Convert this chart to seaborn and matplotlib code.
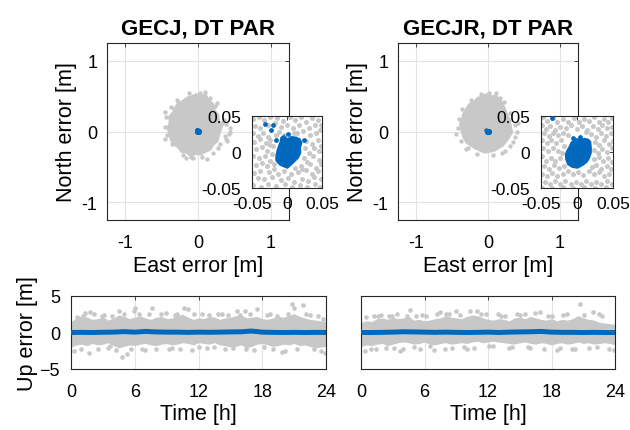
import matplotlib
matplotlib.use("Agg")
import matplotlib.pyplot as plt
import seaborn as sns
import numpy as np

sns.set_theme(style="white")
plt.rcParams["font.family"] = ["Liberation Sans", "DejaVu Sans"]
plt.rcParams["text.color"] = "black"
plt.rcParams["axes.labelcolor"] = "black"

GRAY = "#c8c8c8"
BLUE = "#0068bd"
AXCOL = "#262626"

titles = ["GECJ, DT PAR", "GECJR, DT PAR"]

# --- horizontal scatter, main view (m): dense core outline + outlying dots
core_e_1 = [-0.02, 0.04, 0.11, 0.14, 0.21, 0.23, 0.28, 0.29, 0.34, 0.31, 0.29, 0.27, 0.21, 0.17, 0.10, 0.04,
            -0.04, -0.10, -0.16, -0.23, -0.28, -0.35, -0.38, -0.40, -0.42, -0.39, -0.40, -0.33, -0.30, -0.23, -0.15, -0.09]
core_n_1 = [0.53, 0.50, 0.53, 0.45, 0.39, 0.30, 0.24, 0.15, 0.09, 0.01, -0.06, -0.14, -0.19, -0.26, -0.29, -0.33,
            -0.32, -0.35, -0.30, -0.29, -0.22, -0.18, -0.10, -0.02, 0.05, 0.13, 0.21, 0.29, 0.37, 0.42, 0.48, 0.50]
out_e_1 = [0.10, 0.03, -0.46, 0.44, 0.37, 0.30, -0.16, -0.07, -0.43, 0.36, -0.45, 0.42, -0.44, -0.09,
           0.24, -0.27, 0.16, 0.33, -0.36, 0.05, -0.21, 0.38, 0.27, -0.33, 0.39, 0.40, 0.20, -0.46, -0.37,
           0.12, -0.29, 0.26, 0.44, -0.13]
out_n_1 = [0.56, 0.55, 0.28, 0.00, -0.07, -0.17, -0.38, -0.38, -0.05, 0.16, 0.07, -0.03, 0.21, -0.36,
           0.36, 0.42, 0.48, 0.12, -0.18, -0.36, -0.33, -0.10, -0.24, 0.32, 0.10, -0.13, -0.31, -0.11, 0.34,
           -0.39, 0.45, 0.40, 0.05, 0.55]

core_e_2 = [-0.02, 0.05, 0.11, 0.18, 0.24, 0.27, 0.31, 0.32, 0.34, 0.28, 0.21, 0.16, 0.10, 0.02, -0.04,
            -0.12, -0.18, -0.24, -0.30, -0.34, -0.36, -0.38, -0.39, -0.36, -0.35, -0.30, -0.27, -0.19, -0.14, -0.08]
core_n_2 = [0.53, 0.50, 0.51, 0.43, 0.32, 0.23, 0.16, 0.06, -0.01, -0.11, -0.20, -0.23, -0.27, -0.29, -0.30,
            -0.27, -0.24, -0.20, -0.16, -0.09, -0.03, 0.05, 0.11, 0.18, 0.24, 0.33, 0.38, 0.43, 0.48, 0.50]
out_e_2 = [0.11, -0.42, 0.40, -0.31, 0.24, 0.02, -0.40, 0.37, 0.30, -0.15, 0.16, -0.38, 0.35, -0.24, 0.07,
           0.38, -0.44, 0.22, -0.36, 0.30, -0.10, 0.42, -0.28, 0.19]
out_n_2 = [0.55, 0.05, 0.00, -0.25, -0.27, 0.54, 0.17, 0.09, 0.26, -0.32, 0.47, -0.13, -0.15, 0.45, -0.33,
           -0.08, -0.04, 0.41, 0.32, -0.20, 0.53, 0.12, -0.24, -0.30]

# --- zoomed view (mm): gray dots inside +-50 mm
zoom_e_1 = [-48, -40, -33, -25, -14, -6, 4, 12, 20, 27, 36, 44, 49,
            -46, -38, -27, -17, -9, 0, 9, 17, 31, 40, 47,
            -49, -42, -34, -27, -12, -5, 10, 23, 33, 42,
            -47, -39, -30, -24, -20, 27, 35, 44, 49,
            -44, -36, -28, -22, 25, 31, 38, 46,
            -49, -40, -31, -25, 24, 29, 37, 45,
            -45, -36, -29, -19, 12, 20, 33, 41, 48,
            -47, -38, -26, -13, -5, 6, 15, 27, 36, 44,
            -42, -33, -21, -9, 2, 10, 21, 30, 39, 48,
            -48, -37, -27, -16, -3, 7, 18, 29, 40, 47,
            -18, 22, -16, 14, -24]
zoom_n_1 = [46, 48, 44, 49, 47, 43, 48, 45, 49, 42, 47, 44, 38,
            36, 33, 38, 40, 35, 37, 33, 38, 34, 37, 30,
            26, 22, 27, 21, 28, 24, 27, 29, 23, 26,
            14, 18, 12, 17, 8, 15, 11, 17, 9,
            4, 7, 1, -3, 5, -1, 6, 2,
            -6, -9, -5, -12, -8, -14, -6, -11,
            -18, -15, -20, -24, -22, -19, -17, -22, -16,
            -29, -26, -28, -31, -27, -30, -28, -25, -31, -27,
            -36, -38, -35, -39, -36, -41, -37, -40, -35, -38,
            -46, -48, -44, -47, -45, -49, -46, -48, -44, -49,
            -16, -24, 24, 26, 10]

zoom_e_2 = [-47, -41, -34, -28, -20, -12, -4, 3, 10, 17, 24, 30, 37, 43, 49,
            -49, -43, -37, -30, -23, -15, -8, 0, 7, 14, 22, 29, 35, 41, 48,
            -46, -39, -33, -26, -19, -12, 12, 20, 27, 33, 40, 47,
            -49, -42, -36, -29, -22, -18, 25, 31, 38, 44, 50,
            -47, -40, -33, -26, -21, 24, 29, 35, 42, 48,
            -48, -43, -36, -30, -24, 23, 30, 36, 43, 49,
            -46, -39, -32, -25, -18, 21, 27, 34, 41, 47,
            -49, -42, -35, -28, -20, -13, -6, 2, 9, 16, 23, 30, 37, 44,
            -45, -38, -31, -24, -16, -9, -2, 6, 13, 20, 27, 34, 41, 48,
            -48, -35, -20, -5, 10, 25, 40]
zoom_n_2 = [48, 43, 47, 41, 46, 42, 47, 41, 46, 43, 48, 42, 46, 41, 47,
            37, 32, 36, 31, 35, 33, 37, 32, 36, 31, 36, 32, 37, 33, 35,
            26, 22, 27, 23, 27, 24, 28, 25, 21, 27, 22, 26,
            16, 12, 17, 13, 16, 9, 14, 10, 16, 11, 15,
            5, 1, 6, 2, -2, 3, -2, 4, 0, 6,
            -6, -12, -8, -13, -9, -10, -7, -13, -9, -14,
            -19, -23, -18, -22, -20, -21, -18, -23, -19, -24,
            -30, -34, -29, -33, -30, -27, -31, -28, -32, -27, -31, -28, -33, -30,
            -41, -45, -40, -44, -40, -45, -41, -45, -40, -44, -41, -45, -40, -44,
            -50, -50, -49, -50, -49, -50, -49]

# blue (fixed) solution, mm: blob outline and separate dots
blob_e_1 = [-8.1, -4.3, 0.5, 6.2, 13.3, 18.1, 20.5, 18.6, 19.0, 15.7, 10.9, 6.2, 0.5, -5.7, -10.5, -15.2, -15.2, -13.8, -11.4, -9.0]
blob_n_1 = [19.9, 22.2, 17.6, 20.8, 19.9, 17.6, 12.9, 6.0, -0.9, -7.9, -12.5, -17.1, -21.8, -19.4, -17.1, -11.6, -5.6, 1.4, 8.3, 14.4]
fix_e_1 = [-31, -20, -23, 2, -16, 24]
fix_n_1 = [39, 38, 31, 25, 17, 16]

blob_e_2 = [-4.9, -0.3, 4.4, 10.9, 15.5, 18.3, 19.2, 19.2, 16.9, 13.7, 7.6, 0.7, -6.2, -12.3, -15.0, -15.5, -13.2, -10.4, -7.6]
blob_n_2 = [15.0, 17.9, 16.8, 18.2, 17.0, 14.4, 6.0, -0.9, -7.9, -13.4, -18.1, -21.8, -20.8, -17.1, -10.2, -3.2, 2.3, 6.9, 13.0]
fix_e_2 = [-35, -5, 4]
fix_n_2 = [47, 20, 21]

# --- up component vs time: dense band envelope (every 0.5 h), outlying dots, fixed solution (hourly)
band_hi_1 = [1.5, 2.0, 2.3, 2.1, 1.8, 1.9, 2.1, 1.7, 2.0, 2.4, 2.2, 1.9, 2.1, 2.3, 2.0, 1.8, 2.1, 2.2, 1.9, 2.0,
             2.3, 2.5, 2.1, 1.8, 2.0, 1.9, 2.2, 2.1, 1.8, 2.0, 2.1, 2.3, 2.4, 2.0, 2.1, 2.2, 1.9, 1.8, 2.0, 2.2,
             2.1, 2.3, 2.6, 2.2, 2.0, 1.8, 1.7, 1.6, 1.5]
band_lo_1 = [-2.0, -1.7, -1.6, -1.8, -1.5, -1.7, -1.6, -1.4, -1.8, -2.1, -1.9, -1.7, -1.8, -1.6, -1.5, -1.7, -1.8,
             -1.6, -1.5, -1.7, -1.6, -1.4, -1.5, -1.7, -1.4, -1.5, -1.6, -1.4, -1.7, -1.8, -2.0, -1.9, -1.7, -2.1,
             -1.9, -1.6, -1.5, -1.7, -1.9, -1.8, -1.6, -1.7, -1.5, -1.8, -1.7, -1.9, -2.1, -2.0, -1.9]
spk_t_1 = [0.6, 1.3, 1.8, 2.2, 4.5, 4.8, 5.3, 6.0, 5.9, 7.6, 8.5, 10.6, 11.0, 10.3, 12.3, 13.5, 14.8, 15.6, 16.4,
           17.5, 17.2, 16.5, 19.9, 20.8, 21.0, 21.8, 22.5, 23.5, 0.3, 1.7, 3.5, 9.2, 18.7, 23.9, 2.9, 7.0, 12.8,
           19.0, 22.9, 14.2, 9.8, 3.7,
           0.9, 1.1, 2.5, 3.1, 3.9, 4.2, 5.0, 5.6, 6.4, 6.7, 7.3, 8.0, 8.9, 9.5, 10.0, 11.4, 11.6, 12.0, 13.0,
           13.8, 14.5, 15.2, 15.9, 16.8, 18.2, 18.4, 19.4, 20.1, 20.4, 21.3, 22.1, 23.2, 23.7]
spk_v_1 = [2.1, 2.7, 2.8, 2.6, 3.0, -3.3, -3.0, 3.4, 2.9, 3.4, 2.5, 3.4, 3.2, -2.2, 2.6, -2.0, 2.4, 2.9, 3.0,
           3.2, -2.4, -2.2, -2.7, 3.9, 3.3, 3.8, 2.4, -2.5, -2.5, -2.8, -2.1, -2.3, 2.5, -2.8, 2.2, -2.4, -2.1,
           -2.2, -2.3, 2.5, 2.4, -1.9,
           -2.3, 2.3, -2.2, 2.4, 2.3, -2.4, 2.5, -2.3, 2.6, -2.2, 2.6, -2.3, 2.7, -2.1, 2.5, -2.4, 2.6, -2.0, 2.4,
           2.5, -2.3, -2.1, 2.4, 2.6, -2.0, 2.4, 2.3, -2.5, 2.6, -2.2, 2.6, 2.2, 1.9]
fix_up_1 = [0.0, 0.02, 0.0, 0.03, 0.05, 0.12, 0.05, 0.15, 0.08, 0.05, 0.05, 0.02, 0.05, 0.03, 0.05, 0.08, 0.1,
            0.2, 0.05, 0.02, 0.0, 0.02, 0.0, 0.02, 0.0]

band_hi_2 = [1.4, 1.6, 1.5, 1.9, 2.0, 1.8, 2.1, 1.9, 2.0, 2.2, 1.7, 1.8, 1.6, 1.7, 1.9, 2.0, 2.3, 2.1, 2.0, 1.9,
             2.2, 2.4, 2.3, 2.0, 1.8, 1.7, 1.9, 1.8, 1.6, 2.0, 2.1, 1.9, 2.2, 2.0, 1.8, 1.7, 1.9, 1.6, 1.8, 1.7,
             1.9, 2.3, 2.0, 1.8, 1.7, 1.4, 1.3, 1.2, 1.1]
band_lo_2 = [-1.9, -1.7, -1.8, -1.6, -1.5, -1.8, -1.6, -1.4, -1.3, -1.4, -1.6, -1.5, -1.3, -1.6, -1.7, -1.5, -1.4,
             -1.6, -1.5, -1.4, -1.5, -1.3, -1.2, -1.4, -1.3, -1.2, -1.3, -1.4, -1.5, -1.6, -1.4, -1.3, -1.5, -1.6,
             -1.4, -1.5, -1.7, -1.5, -1.4, -1.6, -1.5, -1.3, -1.5, -1.4, -1.6, -1.5, -1.4, -1.5, -1.7]
spk_t_2 = [0.5, 1.2, 1.9, 2.6, 3.4, 4.6, 5.2, 6.1, 7.5, 8.3, 9.0, 10.3, 11.0, 11.8, 13.2, 14.7, 15.5, 16.9, 18.0,
           19.1, 20.7, 21.9, 22.8, 0.4, 1.4, 2.4, 3.7, 5.0, 6.9, 8.6, 10.0, 12.5, 14.3, 16.0, 18.5, 20.2, 21.5, 23.9,
           0.9, 1.6, 2.9, 3.1, 4.0, 4.3, 5.6, 5.8, 6.5, 7.2, 7.9, 8.0, 9.4, 9.7, 10.7, 11.3, 12.1, 12.9, 13.6,
           14.0, 15.0, 15.8, 16.4, 17.3, 17.7, 18.8, 19.5, 19.9, 21.1, 22.3, 22.5, 23.4]
spk_v_2 = [2.1, 2.3, 2.4, 2.2, 2.5, 3.1, 2.3, 2.2, 2.8, 2.6, 3.0, 3.0, 2.9, 2.5, 2.3, 2.6, 2.5, 2.8, 2.2,
           2.4, 3.9, 2.8, 2.2, -2.5, -2.3, -2.1, -2.5, -2.0, -2.4, -2.1, -2.2, -1.9, -2.0, -2.1, -2.4, -2.2, -2.1, -2.4,
           -2.2, 2.2, 2.3, -2.1, -2.3, 2.2, -2.2, 2.4, -1.9, 2.5, -2.2, 2.6, 2.4, -2.0, -2.1, 2.6, -1.9, 2.5, 2.2,
           -2.1, 2.4, -2.0, 2.7, -2.2, 2.3, -2.1, 2.5, -2.3, 2.4, -2.0, 2.6, -2.2]
fix_up_2 = [0.0, 0.0, 0.02, 0.05, 0.1, 0.08, 0.05, 0.02, 0.05, 0.02, 0.0, 0.02, 0.05, 0.0, 0.05, 0.08, 0.1, 0.15,
            0.05, 0.02, 0.02, 0.0, 0.02, 0.0, 0.0]

W, H = 630, 431


def px_axes(fig, x0, y0, x1, y1):
    # axes from pixel box (top-left origin)
    return fig.add_axes([x0 / W, (H - y1) / H, (x1 - x0) / W, (y1 - y0) / H])


def style_axes(ax, grid=True, size=13):
    for s in ax.spines.values():
        s.set_color(AXCOL)
        s.set_linewidth(0.8)
    ax.tick_params(direction="in", length=3, width=0.6, colors=AXCOL, labelsize=size,
                   top=True, right=True, labelcolor="black")
    if grid:
        ax.grid(True, color="#e3e3e3", linewidth=0.8)
        ax.set_axisbelow(True)


fig = plt.figure(figsize=(W / 100, H / 100), dpi=100)

panels = [
    dict(main=(107, 44, 289, 221), inset=(252, 117, 322, 189), up=(71, 297, 326, 370),
         core=(core_e_1, core_n_1), out=(out_e_1, out_n_1), zoom=(zoom_e_1, zoom_n_1),
         blob=(blob_e_1, blob_n_1), fix=(fix_e_1, fix_n_1),
         band=(band_hi_1, band_lo_1), spk=(spk_t_1, spk_v_1), fixup=fix_up_1),
    dict(main=(398, 44, 578, 221), inset=(541, 117, 613, 189), up=(361, 297, 615, 370),
         core=(core_e_2, core_n_2), out=(out_e_2, out_n_2), zoom=(zoom_e_2, zoom_n_2),
         blob=(blob_e_2, blob_n_2), fix=(fix_e_2, fix_n_2),
         band=(band_hi_2, band_lo_2), spk=(spk_t_2, spk_v_2), fixup=fix_up_2),
]

for i, p in enumerate(panels):
    # main horizontal view
    ax = px_axes(fig, *p["main"])
    style_axes(ax)
    ax.fill(p["core"][0], p["core"][1], color=GRAY, lw=1.2, ec=GRAY, zorder=2)
    sns.scatterplot(x=p["out"][0], y=p["out"][1], ax=ax, color=GRAY, s=10, linewidth=0, zorder=2)
    blue_e = (np.array(p["blob"][0] + p["fix"][0]) * 0.6 / 1000).tolist()
    blue_n = (np.array(p["blob"][1] + p["fix"][1]) * 0.6 / 1000).tolist()
    sns.scatterplot(x=blue_e, y=blue_n, ax=ax, color=BLUE, s=10, linewidth=0, zorder=3)
    ax.set_xlim(-1.25, 1.25)
    ax.set_ylim(-1.25, 1.25)
    ax.set_xticks([-1, 0, 1])
    ax.set_yticks([-1, 0, 1])
    ax.set_xticklabels(["-1", "0", "1"])
    ax.set_yticklabels(["-1", "0", "1"])
    ax.tick_params(axis="x", pad=10)
    ax.tick_params(axis="y", pad=7)
    ax.set_xlabel("East error [m]", fontsize=15.5, labelpad=3)
    ax.set_ylabel("North error [m]", fontsize=15.5, labelpad=3)
    ax.set_title(titles[i], fontsize=16, fontweight="bold", pad=7)

    # zoomed inset (m)
    axi = px_axes(fig, *p["inset"])
    style_axes(axi, grid=False, size=12.5)
    axi.set_facecolor("white")
    zx = (np.array(p["zoom"][0]) / 1000).tolist()
    zy = (np.array(p["zoom"][1]) / 1000).tolist()
    sns.scatterplot(x=zx, y=zy, ax=axi, color=GRAY, s=13, linewidth=0, zorder=2)
    axi.fill(np.array(p["blob"][0]) / 1000, np.array(p["blob"][1]) / 1000, color=BLUE, lw=1.5, ec=BLUE, zorder=3)
    sns.scatterplot(x=(np.array(p["fix"][0]) / 1000).tolist(), y=(np.array(p["fix"][1]) / 1000).tolist(),
                    ax=axi, color=BLUE, s=12, linewidth=0, zorder=4)
    axi.set_xlim(-0.05, 0.05)
    axi.set_ylim(-0.05, 0.05)
    axi.set_xticks([-0.05, 0, 0.05])
    axi.set_yticks([-0.05, 0, 0.05])
    axi.set_xticklabels(["-0.05", "0", "0.05"])
    axi.set_yticklabels(["-0.05", "0", "0.05"])
    axi.tick_params(axis="x", pad=6)
    axi.tick_params(axis="y", pad=8)

    # up component vs time
    axu = px_axes(fig, *p["up"])
    style_axes(axu)
    t_band = np.linspace(0, 24, len(p["band"][0]))
    axu.fill_between(t_band, p["band"][1], p["band"][0], color=GRAY, lw=0, zorder=2)
    sns.scatterplot(x=p["spk"][0], y=p["spk"][1], ax=axu, color=GRAY, s=11, linewidth=0, zorder=2)
    sns.lineplot(x=np.arange(len(p["fixup"])), y=p["fixup"], ax=axu, color=BLUE, linewidth=3.6, zorder=3)
    axu.set_xlim(0, 24)
    axu.set_ylim(-5, 5)
    axu.set_xticks([0, 6, 12, 18, 24])
    axu.set_yticks([-5, 0, 5])
    axu.tick_params(axis="x", pad=10)
    axu.tick_params(axis="y", pad=8)
    axu.set_xlabel("Time [h]", fontsize=15.5, labelpad=2)
    if i == 0:
        axu.set_ylabel("Up error [m]", fontsize=15.5, labelpad=1)
    else:
        axu.set_yticklabels([])

fig.savefig("out.png", dpi=100)
